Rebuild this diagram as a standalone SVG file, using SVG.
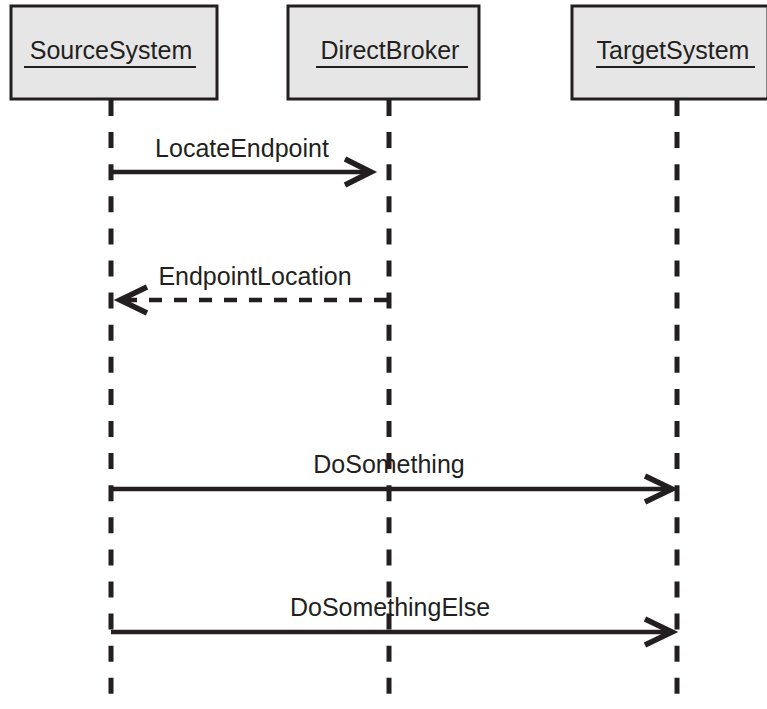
<svg xmlns="http://www.w3.org/2000/svg" width="767" height="709" viewBox="0 0 767 709">
<defs>
<style>
.box{fill:#e6e6e6;stroke:#231f20;stroke-width:3}
.lbl{font-family:"Liberation Sans",Arial,sans-serif;font-size:25px;fill:#231f20;text-anchor:middle}
.ul{stroke:#231f20;stroke-width:2}
.life{stroke:#231f20;stroke-width:5;stroke-dasharray:16 16.1;fill:none}
.msg{stroke:#231f20;stroke-width:4.5;fill:none}
.dash{stroke-dasharray:13 12}
.head{stroke:#231f20;stroke-width:5.5;fill:none;stroke-linecap:butt;stroke-linejoin:miter}
</style>
</defs>
<rect width="767" height="709" fill="#ffffff"/>
<g id="SourceSystem">
<rect class="box" x="11" y="6" width="206" height="93"/>
<text class="lbl" x="111" y="59">SourceSystem</text>
<line class="ul" x1="24" y1="67" x2="196" y2="67"/>
<line class="life" x1="111" y1="100" x2="111" y2="702"/>
</g>
<g id="DirectBroker">
<rect class="box" x="288" y="6" width="191" height="93"/>
<text class="lbl" x="390" y="59">DirectBroker</text>
<line class="ul" x1="316" y1="67" x2="468" y2="67"/>
<line class="life" x1="389" y1="100" x2="389" y2="702"/>
</g>
<g id="TargetSystem">
<rect class="box" x="572" y="6" width="196" height="93"/>
<text class="lbl" x="673" y="59">TargetSystem</text>
<line class="ul" x1="596" y1="67" x2="755" y2="67"/>
<line class="life" x1="677" y1="100" x2="677" y2="702"/>
</g>
<g id="connectors">
<line class="msg" x1="111" y1="172" x2="371" y2="172"/>
<polyline class="head" points="345,159 371,172 345,185"/>
<text class="lbl" x="242" y="157">LocateEndpoint</text>
<line class="msg dash" x1="387" y1="300" x2="120" y2="300"/>
<polyline class="head" points="147,287 120,300 147,313"/>
<text class="lbl" x="255" y="285">EndpointLocation</text>
<line class="msg" x1="111" y1="489" x2="672" y2="489"/>
<polyline class="head" points="645,476 672,489 645,502"/>
<text class="lbl" x="389" y="473">DoSomething</text>
<line class="msg" x1="111" y1="632" x2="672" y2="632"/>
<polyline class="head" points="645,619 672,632 645,645"/>
<text class="lbl" x="390" y="616">DoSomethingElse</text>
</g>
</svg>
